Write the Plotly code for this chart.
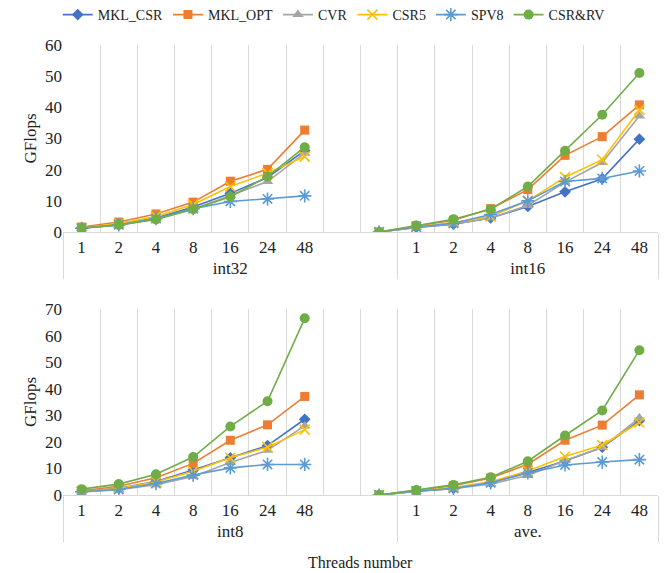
import plotly.graph_objects as go

# ---------------- data ----------------
threads = ["1", "2", "4", "8", "16", "24", "48"]
blank_labels = [" ", "  "]          # two unlabeled category slots after the first group
gap_values = [None, 0]              # values in those two slots (gap, then 0)

top_groups = ["int32", "int16"]
bottom_groups = ["int8", "ave."]

series = ["MKL_CSR", "MKL_OPT", "CVR", "CSR5", "SPV8", "CSR&RV"]

int32_MKL_CSR = [1.3, 2.4, 4.5, 8.0, 12.4, 17.5, 26.1]
int32_MKL_OPT = [1.6, 3.2, 5.8, 9.6, 16.3, 20.1, 32.7]
int32_CVR     = [1.2, 2.2, 4.2, 7.3, 11.7, 16.2, 25.3]
int32_CSR5    = [1.3, 2.7, 5.0, 8.8, 14.6, 18.9, 24.2]
int32_SPV8    = [1.2, 2.3, 4.3, 7.5, 9.8, 10.6, 11.6]
int32_CSRRV   = [1.3, 2.3, 4.0, 7.3, 11.3, 17.8, 27.2]

int16_MKL_CSR = [1.5, 2.5, 4.5, 8.2, 12.9, 17.1, 29.8]
int16_MKL_OPT = [2.0, 3.8, 7.5, 13.6, 24.6, 30.6, 40.8]
int16_CVR     = [1.5, 2.6, 4.5, 8.5, 16.0, 22.3, 37.2]
int16_CSR5    = [1.7, 3.0, 5.0, 10.0, 17.6, 23.2, 39.2]
int16_SPV8    = [1.6, 2.8, 5.6, 10.0, 16.2, 17.2, 19.6]
int16_CSRRV   = [2.1, 4.1, 7.3, 14.6, 26.1, 37.6, 51.0]

int8_MKL_CSR  = [1.3, 2.5, 5.1, 9.4, 14.0, 18.6, 28.5]
int8_MKL_OPT  = [1.6, 3.3, 6.5, 11.9, 20.6, 26.4, 37.1]
int8_CVR      = [1.1, 2.0, 3.9, 7.0, 12.2, 16.8, 26.0]
int8_CSR5     = [1.2, 2.4, 4.9, 8.9, 14.0, 18.0, 24.6]
int8_SPV8     = [1.2, 2.1, 4.3, 7.5, 10.2, 11.5, 11.5]
int8_CSRRV    = [2.2, 4.1, 7.8, 14.3, 25.8, 35.3, 66.5]

ave_MKL_CSR   = [1.4, 2.5, 4.7, 8.5, 12.8, 18.0, 28.0]
ave_MKL_OPT   = [1.7, 3.5, 6.4, 11.6, 20.6, 26.3, 37.7]
ave_CVR       = [1.4, 2.4, 4.2, 7.3, 13.0, 17.9, 29.0]
ave_CSR5      = [1.5, 2.8, 5.0, 9.0, 14.5, 18.8, 27.3]
ave_SPV8      = [1.4, 2.5, 4.6, 8.3, 11.3, 12.4, 13.3]
ave_CSRRV     = [1.9, 3.8, 6.7, 12.7, 22.4, 31.8, 54.5]

top_y_ticks = [0, 10, 20, 30, 40, 50, 60]
bottom_y_ticks = [0, 10, 20, 30, 40, 50, 60, 70]

# ---------------- styles ----------------
colors = ["#4472C4", "#ED7D31", "#A5A5A5", "#FFC000", "#5B9BD5", "#70AD47"]
symbols = ["diamond", "square", "triangle-up", "x-thin-open", "asterisk-open", "circle"]
sizes = [9, 9, 10, 10, 11, 10]

FONT = "Liberation Serif"
TXT = "#222"
GRID = "#d9d9d9"

top_data = [
    (int32_MKL_CSR, int16_MKL_CSR), (int32_MKL_OPT, int16_MKL_OPT),
    (int32_CVR, int16_CVR), (int32_CSR5, int16_CSR5),
    (int32_SPV8, int16_SPV8), (int32_CSRRV, int16_CSRRV),
]
bottom_data = [
    (int8_MKL_CSR, ave_MKL_CSR), (int8_MKL_OPT, ave_MKL_OPT),
    (int8_CVR, ave_CVR), (int8_CSR5, ave_CSR5),
    (int8_SPV8, ave_SPV8), (int8_CSRRV, ave_CSRRV),
]


def x_levels(groups):
    lvl0 = [groups[0]] * (len(threads) + len(blank_labels)) + [groups[1]] * len(threads)
    lvl1 = threads + blank_labels + threads
    return [lvl0, lvl1]


n_slots = 2 * len(threads) + len(blank_labels)

fig = go.Figure()

for panel, (groups, data, xa, ya) in enumerate([
    (top_groups, top_data, "x", "y"),
    (bottom_groups, bottom_data, "x2", "y2"),
]):
    xs = x_levels(groups)
    for i, (name, (a, b)) in enumerate(zip(series, data)):
        yv = list(a) + gap_values + list(b)
        open_sym = symbols[i].endswith("open")
        fig.add_trace(go.Scatter(
            x=xs, y=yv, name=name, mode="lines+markers",
            xaxis=xa, yaxis=ya,
            connectgaps=False,
            showlegend=(panel == 0),
            line=dict(color=colors[i], width=1.6),
            marker=dict(symbol=symbols[i], size=sizes[i], color=colors[i],
                        line=dict(color=colors[i], width=1.6 if open_sym else 0)),
        ))

xcommon = dict(
    type="multicategory", showgrid=True, gridcolor=GRID, gridwidth=1,
    showline=True, linecolor=GRID, linewidth=1,
    showdividers=True, dividercolor=GRID, dividerwidth=1,
    ticks="", automargin=False, range=[-0.5, n_slots - 0.5],
    tickfont=dict(family=FONT, size=17, color=TXT),
)
ycommon = dict(
    showgrid=False, zeroline=False, showline=False, ticks="", automargin=False,
    tickfont=dict(family=FONT, size=17, color=TXT),
    title=dict(text="GFlops", font=dict(family=FONT, size=17, color=TXT), standoff=4),
    dtick=10,
)

# page body has an 8px default margin, so the figure is sized to the visible area
fig.update_layout(
    width=663, height=565,
    margin=dict(l=55, r=13, t=37, b=78),
    paper_bgcolor="white", plot_bgcolor="white",
    font=dict(family=FONT, size=17, color=TXT),
    xaxis=dict(domain=[0, 1], anchor="y", **xcommon),
    yaxis=dict(domain=[0.5844, 1], anchor="x", range=[0, 60], tickvals=top_y_ticks, **ycommon),
    xaxis2=dict(domain=[0, 1], anchor="y2", **xcommon),
    yaxis2=dict(domain=[0, 0.4133], anchor="x2", range=[0, 70], tickvals=bottom_y_ticks, **ycommon),
    legend=dict(orientation="h", x=0.455, xanchor="center", y=0.9876, yanchor="middle",
                yref="container", font=dict(family=FONT, size=14, color=TXT),
                itemwidth=30, bgcolor="rgba(0,0,0,0)"),
    annotations=[dict(text="Threads number", xref="paper", yref="paper", x=0.5, y=-0.149,
                      xanchor="center", yanchor="middle", showarrow=False,
                      font=dict(family=FONT, size=16, color=TXT))],
)

fig.write_html("out.html")
